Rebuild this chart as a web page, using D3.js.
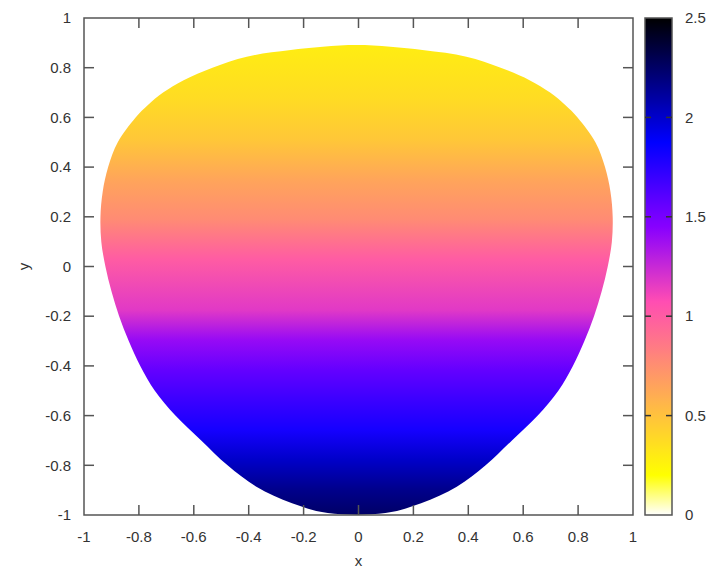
<!DOCTYPE html>
<html>
<head>
<meta charset="utf-8">
<script src="https://cdn.jsdelivr.net/npm/d3@7"></script>
<style>
  body { margin: 0; background: #fff; }
  text { font-family: "Liberation Sans", Arial, sans-serif; font-size: 15px; fill: #333; }
</style>
</head>
<body>
<div id="chart"></div>
<script>
// outline of the coloured region (y, left x, right x)
var edgeY  = [0.891, 0.871, 0.844, 0.80, 0.75, 0.70, 0.65, 0.60, 0.50, 0.40, 0.30, 0.20, 0.10, 0.0, -0.10, -0.20, -0.30, -0.40, -0.50, -0.60, -0.70, -0.80, -0.886, -0.953, -0.992];
var edgeXL = [-0.007, -0.247, -0.407, -0.532, -0.637, -0.712, -0.767, -0.812, -0.877, -0.912, -0.932, -0.94, -0.937, -0.922, -0.90, -0.872, -0.837, -0.795, -0.742, -0.667, -0.573, -0.477, -0.372, -0.242, -0.112];
var edgeXR = [-0.007, 0.233, 0.393, 0.518, 0.623, 0.698, 0.753, 0.798, 0.863, 0.898, 0.918, 0.926, 0.923, 0.908, 0.886, 0.858, 0.823, 0.781, 0.728, 0.653, 0.559, 0.463, 0.358, 0.228, 0.098];

// colour value along y
var levelY = [0.89, 0.67, 0.51, 0.35, 0.19, 0.03, -0.175, -0.296, -0.416, -0.537, -0.658, -0.779, -0.899, -1.0];
var levelV = [0.29, 0.375, 0.475, 0.64, 0.77, 1.0, 1.17, 1.4, 1.56, 1.69, 1.81, 2.01, 2.16, 2.25];

var axisTicks = [-1, -0.8, -0.6, -0.4, -0.2, 0, 0.2, 0.4, 0.6, 0.8, 1];
var cbTicks = [0, 0.5, 1, 1.5, 2, 2.5];

var pLeft = 84, pTop = 18, pRight = 633, pBottom = 515;
var cbLeft = 645, cbRight = 672;

var svg = d3.select("#chart").append("svg")
    .attr("width", 708)
    .attr("height", 572);

var x = d3.scaleLinear().domain([-1, 1]).range([pLeft, pRight]);
var y = d3.scaleLinear().domain([-1, 1]).range([pBottom, pTop]);
var cb = d3.scaleLinear().domain([0, 2.5]).range([pBottom, pTop]);

// gnuplot rgbformulae 30,31,32 with negative palette
function clip(v) { return Math.max(0, Math.min(1, v)); }
function palette(v) {
  var g = 1 - v / 2.5;
  var r = clip(g / 0.32 - 0.78125);
  var gr = clip(2 * g - 0.84);
  var b;
  if (g < 0.25) b = 4 * g;
  else if (g < 0.42) b = 1;
  else if (g < 0.92) b = -2 * g + 1.84;
  else b = g / 0.08 - 11.5;
  b = clip(b);
  return d3.rgb(r * 255, gr * 255, b * 255).toString();
}

var defs = svg.append("defs");

// vertical gradient for the surface
var grad = defs.append("linearGradient")
    .attr("id", "surf")
    .attr("gradientUnits", "userSpaceOnUse")
    .attr("x1", 0).attr("x2", 0)
    .attr("y1", y(levelY[0])).attr("y2", y(levelY[levelY.length - 1]));
var span = y(levelY[levelY.length - 1]) - y(levelY[0]);
levelY.forEach(function(ly, i) {
  grad.append("stop")
      .attr("offset", (y(ly) - y(levelY[0])) / span)
      .attr("stop-color", palette(levelV[i]));
});

defs.append("clipPath").attr("id", "frame")
  .append("rect")
    .attr("x", pLeft).attr("y", pTop)
    .attr("width", pRight - pLeft).attr("height", pBottom - pTop);

// outline: down the right side, back up the left
var pts = [];
edgeY.forEach(function(ey, i) { pts.push([edgeXR[i], ey]); });
for (var i = edgeY.length - 1; i > 0; i--) pts.push([edgeXL[i], edgeY[i]]);

var outline = d3.line()
    .x(function(d) { return x(d[0]); })
    .y(function(d) { return y(d[1]); })
    .curve(d3.curveCatmullRomClosed);

svg.append("path")
    .attr("d", outline(pts))
    .attr("fill", "url(#surf)")
    .attr("clip-path", "url(#frame)");

// frame + ticks on all four sides
var tickLen = 10;
var g = svg.append("g").attr("stroke", "#555").attr("stroke-width", 1.5);
axisTicks.slice(1, -1).forEach(function(t) {
  g.append("line").attr("x1", x(t)).attr("x2", x(t)).attr("y1", pBottom).attr("y2", pBottom - tickLen);
  g.append("line").attr("x1", x(t)).attr("x2", x(t)).attr("y1", pTop).attr("y2", pTop + tickLen);
  g.append("line").attr("y1", y(t)).attr("y2", y(t)).attr("x1", pLeft).attr("x2", pLeft + tickLen);
  g.append("line").attr("y1", y(t)).attr("y2", y(t)).attr("x1", pRight).attr("x2", pRight - tickLen);
});
svg.append("rect")
    .attr("x", pLeft).attr("y", pTop)
    .attr("width", pRight - pLeft).attr("height", pBottom - pTop)
    .attr("fill", "none").attr("stroke", "#555").attr("stroke-width", 1.5);

// tick labels
svg.selectAll(".xl").data(axisTicks).enter().append("text")
    .attr("x", function(d) { return x(d); })
    .attr("y", pBottom + 27)
    .attr("text-anchor", "middle")
    .text(function(d) { return d; });
svg.selectAll(".yl").data(axisTicks).enter().append("text")
    .attr("x", pLeft - 13)
    .attr("y", function(d) { return y(d); })
    .attr("dy", "0.35em")
    .attr("text-anchor", "end")
    .text(function(d) { return d; });

svg.append("text").attr("x", x(0)).attr("y", 566).attr("text-anchor", "middle").text("x");
svg.append("text")
    .attr("transform", "translate(24," + y(0) + ") rotate(-90)")
    .attr("text-anchor", "middle")
    .attr("dy", "0.35em")
    .text("y");

// colour box
var cgrad = defs.append("linearGradient")
    .attr("id", "cbar")
    .attr("x1", 0).attr("x2", 0).attr("y1", 1).attr("y2", 0);
d3.range(0, 1.0001, 0.01).forEach(function(f) {
  cgrad.append("stop").attr("offset", f).attr("stop-color", palette(f * 2.5));
});
svg.append("rect")
    .attr("x", cbLeft).attr("y", pTop)
    .attr("width", cbRight - cbLeft).attr("height", pBottom - pTop)
    .attr("fill", "url(#cbar)")
    .attr("stroke", "#555").attr("stroke-width", 1.5);

var cg = svg.append("g").attr("stroke", "#333").attr("stroke-width", 1.5);
cbTicks.slice(1, -1).forEach(function(t) {
  cg.append("line").attr("x1", cbLeft).attr("x2", cbLeft + 6).attr("y1", cb(t)).attr("y2", cb(t));
  cg.append("line").attr("x1", cbRight).attr("x2", cbRight - 6).attr("y1", cb(t)).attr("y2", cb(t));
});

svg.selectAll(".cl").data(cbTicks).enter().append("text")
    .attr("x", cbRight + 13)
    .attr("y", function(d) { return cb(d); })
    .attr("dy", "0.35em")
    .text(function(d) { return d; });
</script>
</body>
</html>
